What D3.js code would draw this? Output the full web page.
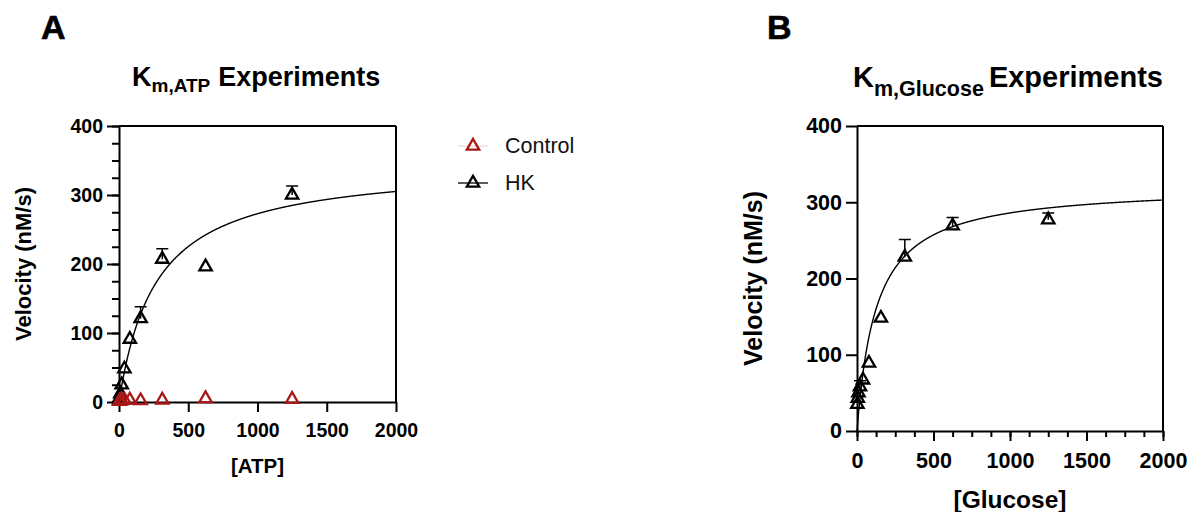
<!DOCTYPE html>
<html>
<head>
<meta charset="utf-8">
<script src="https://cdn.jsdelivr.net/npm/d3@7"></script>
<style>
  body { margin: 0; background: #fff; }
  svg { display: block; font-family: "Liberation Sans", Arial, sans-serif; }
</style>
</head>
<body>
<svg id="chart" width="1193" height="512"></svg>
<script>
// ---------------- data ----------------
const concentrations = [1250, 625, 312.5, 156.25, 78.125, 39.06, 19.53, 9.77, 4.88, 2.44];

// Panel A (Km,ATP)
const hkA      = [300, 196, 207, 121, 91, 48, 25, 12, 6, 3];
const hkAErr   = [13, 0, 15, 17, 0, 0, 0, 0, 0, 0];
const controlA = [4, 5, 3, 2, 3, 3, 2, 2, 1, 1];
const fitA = { vmax: 346, km: 268 };

// Panel B (Km,Glucose)
const hkB    = [277, 269, 228, 148, 89, 67, 58, 50, 43, 35];
const hkBErr = [9, 11, 23, 0, 0, 0, 8, 0, 0, 0];
const fitB = { vmax: 322, km: 126 };

const xTicks = [0, 500, 1000, 1500, 2000];
const yTicks = [0, 100, 200, 300, 400];
const legendLabels = ["Control", "HK"];

const red = "#a81818";
const svg = d3.select("#chart");
const font = '"Liberation Sans", Arial, sans-serif';
const fmt = d3.format("d");

function mm(p, x) { return p.vmax * x / (p.km + x); }

function panel(cfg) {
  const g = svg.append("g");
  const x = d3.scaleLinear().domain([0, 2000]).range([cfg.x0, cfg.x1]);
  const y = d3.scaleLinear().domain([0, 400]).range([cfg.y0, cfg.y1]);

  // box (top and right)
  g.append("line").attr("x1", cfg.x0).attr("x2", cfg.x1).attr("y1", cfg.y1).attr("y2", cfg.y1)
    .attr("stroke", "#000").attr("stroke-width", 2);
  g.append("line").attr("x1", cfg.x1).attr("x2", cfg.x1).attr("y1", cfg.y1).attr("y2", cfg.y0)
    .attr("stroke", "#000").attr("stroke-width", 2);

  // minor ticks
  if (cfg.yMinor) {
    g.append("g").attr("transform", `translate(${cfg.x0},0)`)
      .call(d3.axisLeft(y).tickValues(d3.range(0, 401, 25)).tickSize(7).tickSizeOuter(0).tickFormat(""))
      .call(a => a.select(".domain").remove())
      .call(a => a.selectAll("line").attr("stroke-width", 2));
  }
  if (cfg.xMinor) {
    g.append("g").attr("transform", `translate(0,${cfg.y0})`)
      .call(d3.axisBottom(x).tickValues(d3.range(0, 2001, 125)).tickSize(6).tickSizeOuter(0).tickFormat(""))
      .call(a => a.select(".domain").remove())
      .call(a => a.selectAll("line").attr("stroke-width", 2));
  }

  // y axis
  g.append("g").attr("transform", `translate(${cfg.x0},0)`)
    .call(d3.axisLeft(y).tickValues(yTicks).tickFormat(fmt).tickSize(cfg.yTick).tickSizeOuter(0).tickPadding(4))
    .call(a => a.select(".domain").attr("stroke-width", 2))
    .call(a => a.selectAll("line").attr("stroke-width", 2))
    .call(a => a.selectAll("text").attr("font-family", font).attr("font-weight", "bold")
      .attr("font-size", cfg.tickFont).attr("fill", "#000"));

  // x axis
  g.append("g").attr("transform", `translate(0,${cfg.y0})`)
    .call(d3.axisBottom(x).tickValues(xTicks).tickFormat(fmt).tickSize(10).tickSizeOuter(0).tickPadding(cfg.xPad))
    .call(a => a.select(".domain").attr("stroke-width", 2))
    .call(a => a.selectAll("line").attr("stroke-width", 2))
    .call(a => a.selectAll("text").attr("font-family", font).attr("font-weight", "bold")
      .attr("font-size", cfg.tickFont).attr("fill", "#000"));

  // axis titles
  g.append("text").attr("transform", `translate(${cfg.yLabelX},${(cfg.y0 + cfg.y1) / 2}) rotate(-90)`)
    .attr("text-anchor", "middle").attr("dominant-baseline", "central")
    .attr("font-weight", "bold").attr("font-size", cfg.yLabelFont).text("Velocity (nM/s)");
  g.append("text").attr("x", (cfg.x0 + cfg.x1) / 2).attr("y", cfg.xLabelY)
    .attr("text-anchor", "middle").attr("font-weight", "bold").attr("font-size", cfg.xLabelFont)
    .text(cfg.xLabel);

  // panel letter
  g.append("text").attr("x", cfg.letterX).attr("y", 38.5).attr("font-weight", "bold")
    .attr("font-size", 34).attr("stroke", "#000").attr("stroke-width", 0.6).text(cfg.letter);

  // title with subscript
  const t = g.append("text").attr("x", cfg.titleX).attr("y", cfg.titleY).attr("font-weight", "bold")
    .attr("font-size", cfg.titleFont);
  t.append("tspan").text("K");
  t.append("tspan").attr("font-size", cfg.subFont).attr("dy", cfg.subDy).text(cfg.sub);
  t.append("tspan").attr("dy", -cfg.subDy).attr("dx", cfg.gap).text("Experiments");

  // fit curve
  const xs = d3.range(0, 2000.1, 2);
  const line = d3.line().x(d => x(d)).y(d => y(mm(cfg.fit, d))).curve(d3.curveLinear);
  g.append("path").datum(xs).attr("d", line).attr("fill", "none").attr("stroke", "#000")
    .attr("stroke-width", 1.4);

  // error bars (upper only)
  const errs = cfg.hk.map((v, i) => ({ x: concentrations[i], y: v, e: cfg.err[i] })).filter(d => d.e > 0);
  g.selectAll(".err").data(errs).enter().append("path")
    .attr("d", d => `M${x(d.x)},${y(d.y)}V${y(d.y + d.e)}M${x(d.x) - 6},${y(d.y + d.e)}H${x(d.x) + 6}`)
    .attr("stroke", "#000").attr("stroke-width", 1.5).attr("fill", "none");

  const sym = d3.symbol(d3.symbolTriangle, 66);
  const pts = cfg.hk.map((v, i) => ({ x: concentrations[i], y: v }));
  g.selectAll(".hk").data(pts).enter().append("path")
    .attr("transform", d => `translate(${x(d.x)},${y(d.y)})`)
    .attr("d", sym).attr("fill", "none").attr("stroke", "#000").attr("stroke-width", 2.3);

  if (cfg.control) {
    const cp = cfg.control.map((v, i) => ({ x: concentrations[i], y: v }));
    g.selectAll(".ctrl").data(cp).enter().append("path")
      .attr("transform", d => `translate(${x(d.x)},${y(d.y)})`)
      .attr("d", sym).attr("fill", "none").attr("stroke", red).attr("stroke-width", 2.3);
  }
}

panel({
  x0: 119, x1: 396, y0: 402, y1: 126, yMinor: true, xMinor: false, yTick: 12, xPad: 11,
  tickFont: 19.5, yLabelX: 23, yLabelFont: 22, xLabel: "[ATP]", xLabelY: 473, xLabelFont: 20.5,
  letter: "A", letterX: 41, titleX: 132, titleY: 86, titleFont: 27, subFont: 19, subDy: 6, gap: 8, sub: "m,ATP",
  fit: fitA, hk: hkA, err: hkAErr, control: controlA
});

panel({
  x0: 857, x1: 1163, y0: 431, y1: 126, yMinor: false, xMinor: true, yTick: 11, xPad: 12,
  tickFont: 21.5, yLabelX: 753, yLabelFont: 25, xLabel: "[Glucose]", xLabelY: 508, xLabelFont: 24.5,
  letter: "B", letterX: 767, titleX: 853, titleY: 87, titleFont: 29, subFont: 21.5, subDy: 9, gap: 5, sub: "m,Glucose",
  fit: fitB, hk: hkB, err: hkBErr, control: null
});

// legend
const legend = svg.append("g");
const legendColors = [red, "#000"];
const legendLineColors = ["#f0d6d6", "#000"];
const legendY = d3.scalePoint().domain(legendLabels).range([146, 183]);
legendLabels.forEach((lab, i) => {
  const yy = legendY(lab);
  legend.append("line").attr("x1", 458).attr("x2", 488).attr("y1", yy).attr("y2", yy)
    .attr("stroke", legendLineColors[i]).attr("stroke-width", 1.3);
  legend.append("path").attr("transform", `translate(473,${yy})`)
    .attr("d", d3.symbol(d3.symbolTriangle, 66)).attr("fill", "none")
    .attr("stroke", legendColors[i]).attr("stroke-width", 2.3);
  legend.append("text").attr("x", 505).attr("y", yy).attr("dominant-baseline", "central")
    .attr("font-size", 21.5).attr("fill", "#111").text(lab);
});
</script>
</body>
</html>
